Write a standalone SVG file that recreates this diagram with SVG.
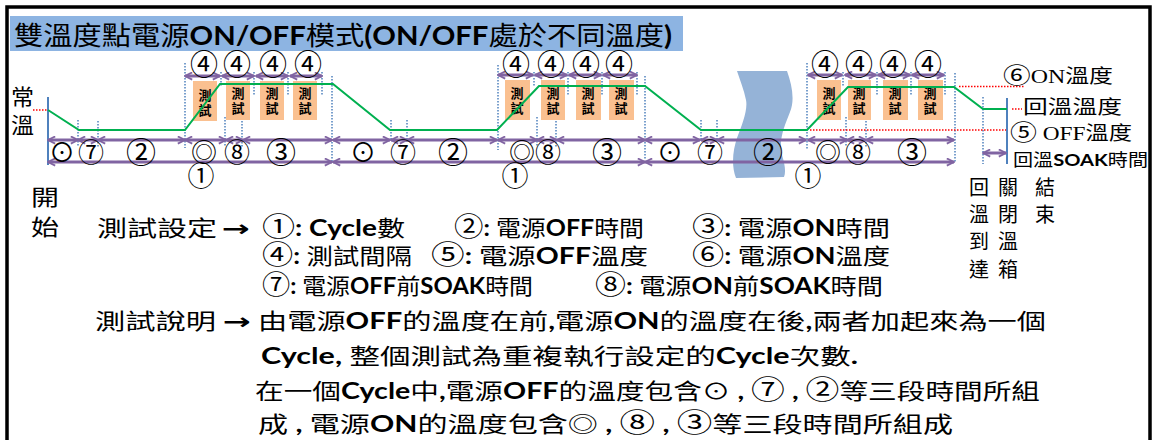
<svg xmlns="http://www.w3.org/2000/svg" width="1155" height="440" viewBox="0 0 1155 440">
<style>
text{font-family:"Noto Sans CJK TC","Noto Sans CJK SC",sans-serif;fill:#000;}
.b{font-family:"Lato","Liberation Sans","Noto Sans CJK TC",sans-serif;font-weight:bold;}
.ar{font-family:"DejaVu Sans",sans-serif;font-weight:bold;}
.c{font-size:26px;}
.c4{font-size:28px;text-anchor:middle;}
.c7{font-size:26px;text-anchor:middle;}
.c2{font-size:30px;text-anchor:middle;}
.c1{font-size:27px;text-anchor:middle;}
.cs{font-size:26px;text-anchor:middle;}
.box{fill:#FAC090;}
.bt{font-size:13px;font-weight:bold;text-anchor:middle;}
.arr{stroke:#8064A2;stroke-width:3;fill:none;marker-start:url(#ah);marker-end:url(#ah);}
.dot{stroke:#4F81BD;stroke-width:1.5;stroke-dasharray:1.5 1.5;fill:none;}
.red{stroke:#FF0000;stroke-width:1.5;stroke-dasharray:1.5 1.5;fill:none;}
.axis{stroke:#4F81BD;stroke-width:2;fill:none;}
.rl{font-size:19px;font-family:"Liberation Serif","Noto Sans CJK TC",serif;}
</style>
<defs>
<marker id="ah" viewBox="0 0 10 10" refX="9" refY="5" markerWidth="9" markerHeight="9" orient="auto-start-reverse" markerUnits="userSpaceOnUse">
<path d="M1,1 L9,5 L1,9" fill="none" stroke="#8064A2" stroke-width="2"/>
</marker>
</defs>
<rect x="7" y="7" width="1143" height="460" fill="#fff" stroke="#000" stroke-width="3.5"/>
<g id="title">
<rect x="10" y="16" width="673" height="35" fill="#8DB4E2"/>
<text x="14" y="45" font-size="26" textLength="658" lengthAdjust="spacingAndGlyphs">雙溫度點電源<tspan class="b">ON/OFF</tspan>模式<tspan class="b">(ON/OFF</tspan>處於不同溫度<tspan class="b">)</tspan></text>
</g>
<g id="break">
<path d="M737,71 L787,71 C792,85 795,100 790,112 C785,125 778,140 782,155 C785,165 786,172 784,177 L736,178 C731,165 733,150 737,138 C742,125 748,110 746,100 C744,90 740,80 737,71 Z" fill="#95B3D7"/>
</g>
<g id="axes">
<line class="axis" x1="48" y1="97" x2="48" y2="165"/>
<line class="axis" x1="1007" y1="98" x2="1007" y2="164"/>
<text x="11" y="105" font-size="22" textLength="23" lengthAdjust="spacingAndGlyphs">常</text>
<text x="11" y="133" font-size="22" textLength="23" lengthAdjust="spacingAndGlyphs">溫</text>
</g>
<g id="dotted">
<line class="dot" x1="78" y1="120" x2="78" y2="147"/>
<line class="dot" x1="98" y1="121" x2="98" y2="147"/>
<line class="dot" x1="185" y1="63" x2="185" y2="148"/>
<line class="dot" x1="221" y1="72" x2="221" y2="86"/>
<line class="dot" x1="225" y1="117" x2="225" y2="147"/>
<line class="dot" x1="242" y1="118" x2="242" y2="147"/>
<line class="dot" x1="254" y1="72" x2="254" y2="96"/>
<line class="dot" x1="288" y1="72" x2="288" y2="96"/>
<line class="dot" x1="322" y1="72" x2="322" y2="96"/>
<line class="dot" x1="332" y1="76" x2="332" y2="162"/>
<line class="dot" x1="391" y1="120" x2="391" y2="141"/>
<line class="dot" x1="407" y1="120" x2="407" y2="142"/>
<line class="dot" x1="498" y1="65" x2="498" y2="150"/>
<line class="dot" x1="534" y1="72" x2="534" y2="86"/>
<line class="dot" x1="537" y1="117" x2="537" y2="147"/>
<line class="dot" x1="556" y1="118" x2="556" y2="147"/>
<line class="dot" x1="568" y1="72" x2="568" y2="96"/>
<line class="dot" x1="602" y1="72" x2="602" y2="96"/>
<line class="dot" x1="637" y1="72" x2="637" y2="96"/>
<line class="dot" x1="645" y1="76" x2="645" y2="160"/>
<line class="dot" x1="701" y1="120" x2="701" y2="140"/>
<line class="dot" x1="717" y1="120" x2="717" y2="140"/>
<line class="dot" x1="807" y1="63" x2="807" y2="150"/>
<line class="dot" x1="843" y1="72" x2="843" y2="86"/>
<line class="dot" x1="846" y1="117" x2="846" y2="147"/>
<line class="dot" x1="866" y1="118" x2="866" y2="147"/>
<line class="dot" x1="877" y1="72" x2="877" y2="96"/>
<line class="dot" x1="911" y1="72" x2="911" y2="96"/>
<line class="dot" x1="945" y1="72" x2="945" y2="96"/>
<line class="dot" x1="955" y1="73" x2="955" y2="163"/>
<line class="dot" x1="983" y1="97" x2="983" y2="164"/>
</g>
<g id="test-boxes">
<rect class="box" x="193" y="81" width="24" height="40"/>
<rect class="box" x="226" y="81" width="24" height="39"/>
<rect class="box" x="260" y="81" width="24" height="39"/>
<rect class="box" x="293" y="81" width="24" height="39"/>
<rect class="box" x="505" y="80" width="25" height="40"/>
<rect class="box" x="541" y="80" width="24" height="40"/>
<rect class="box" x="576" y="80" width="25" height="40"/>
<rect class="box" x="609" y="80" width="25" height="40"/>
<rect class="box" x="817" y="80" width="24" height="40"/>
<rect class="box" x="848" y="80" width="23" height="40"/>
<rect class="box" x="883" y="80" width="25" height="40"/>
<rect class="box" x="918" y="80" width="25" height="40"/>
<text class="bt" x="205" y="100">測</text><text class="bt" x="205" y="115">試</text>
<text class="bt" x="238" y="98">測</text><text class="bt" x="238" y="113">試</text>
<text class="bt" x="272" y="98">測</text><text class="bt" x="272" y="113">試</text>
<text class="bt" x="305" y="98">測</text><text class="bt" x="305" y="113">試</text>
<text class="bt" x="517" y="98">測</text><text class="bt" x="517" y="113">試</text>
<text class="bt" x="553" y="98">測</text><text class="bt" x="553" y="113">試</text>
<text class="bt" x="588" y="98">測</text><text class="bt" x="588" y="113">試</text>
<text class="bt" x="621" y="98">測</text><text class="bt" x="621" y="113">試</text>
<text class="bt" x="829" y="98">測</text><text class="bt" x="829" y="113">試</text>
<text class="bt" x="859" y="98">測</text><text class="bt" x="859" y="113">試</text>
<text class="bt" x="895" y="98">測</text><text class="bt" x="895" y="113">試</text>
<text class="bt" x="930" y="98">測</text><text class="bt" x="930" y="113">試</text>
</g>
<g id="temperature-curve">
<line class="red" x1="33" y1="110" x2="47" y2="110"/>
<line class="red" x1="959" y1="86.5" x2="1025" y2="86.5"/>
<line class="red" x1="1012" y1="109" x2="1022" y2="109"/>
<line class="red" x1="810" y1="130" x2="1006" y2="130"/>
<path d="M48,110 L79,130 L185,130 L220,84 L333,84 L390,130 L497,130 L539,86 L645,86 L701,130 L807,130 L848,87 L954,87 L983,109 L1007,109" fill="none" stroke="#00B050" stroke-width="2"/>
</g>
<g id="connectors">
<line class="arr" x1="185" y1="76" x2="220" y2="76"/>
<line class="arr" x1="222" y1="76" x2="254" y2="76"/>
<line class="arr" x1="256" y1="76" x2="288" y2="76"/>
<line class="arr" x1="290" y1="76" x2="322" y2="76"/>
<line class="arr" x1="498" y1="75" x2="533" y2="75"/>
<line class="arr" x1="535" y1="75" x2="567" y2="75"/>
<line class="arr" x1="569" y1="75" x2="601" y2="75"/>
<line class="arr" x1="603" y1="75" x2="637" y2="75"/>
<line class="arr" x1="808" y1="75" x2="842" y2="75"/>
<line class="arr" x1="845" y1="75" x2="876" y2="75"/>
<line class="arr" x1="878" y1="75" x2="910" y2="75"/>
<line class="arr" x1="912" y1="75" x2="944" y2="75"/>
<line class="arr" x1="48" y1="140" x2="78" y2="140"/>
<line class="arr" x1="78" y1="140" x2="98" y2="140"/>
<line class="arr" x1="98" y1="140" x2="185" y2="140"/>
<line class="arr" x1="185" y1="140" x2="226" y2="140"/>
<line class="arr" x1="226" y1="140" x2="243" y2="140"/>
<line class="arr" x1="243" y1="140" x2="332" y2="140"/>
<line class="arr" x1="333" y1="140" x2="390" y2="140"/>
<line class="arr" x1="391" y1="140" x2="407" y2="140"/>
<line class="arr" x1="407" y1="140" x2="497" y2="140"/>
<line class="arr" x1="498" y1="140" x2="537" y2="140"/>
<line class="arr" x1="537" y1="140" x2="557" y2="140"/>
<line class="arr" x1="557" y1="140" x2="645" y2="140"/>
<line class="arr" x1="645" y1="140" x2="700" y2="140"/>
<line class="arr" x1="701" y1="140" x2="717" y2="140"/>
<line class="arr" x1="717" y1="140" x2="806" y2="140"/>
<line class="arr" x1="808" y1="140" x2="847" y2="140"/>
<line class="arr" x1="847" y1="140" x2="866" y2="140"/>
<line class="arr" x1="866" y1="140" x2="954" y2="140"/>
<line class="arr" x1="48" y1="162" x2="332" y2="162"/>
<line class="arr" x1="333" y1="162" x2="645" y2="162"/>
<line class="arr" x1="645" y1="162" x2="954" y2="162"/>
<line class="arr" x1="983" y1="153" x2="1006" y2="153"/>
</g>
<g id="chart-labels">
<text class="c4" x="204" y="75">④</text>
<text class="c4" x="237" y="75">④</text>
<text class="c4" x="273" y="75">④</text>
<text class="c4" x="308" y="75">④</text>
<text class="c4" x="516" y="75">④</text>
<text class="c4" x="551" y="75">④</text>
<text class="c4" x="586" y="75">④</text>
<text class="c4" x="619" y="75">④</text>
<text class="c4" x="825" y="75">④</text>
<text class="c4" x="859" y="75">④</text>
<text class="c4" x="893" y="75">④</text>
<text class="c4" x="928" y="75">④</text>
<text class="cs" x="62" y="162">⊙</text>
<text class="c7" x="91" y="162">⑦</text>
<text class="c2" x="141" y="163">②</text>
<text class="cs" x="204" y="162">◎</text>
<text class="c7" x="237" y="162">⑧</text>
<text class="c2" x="281" y="163">③</text>
<text class="cs" x="363" y="162">⊙</text>
<text class="c7" x="403" y="162">⑦</text>
<text class="c2" x="453" y="163">②</text>
<text class="cs" x="522" y="162">◎</text>
<text class="c7" x="548" y="162">⑧</text>
<text class="c2" x="607" y="163">③</text>
<text class="cs" x="670" y="162">⊙</text>
<text class="c7" x="710" y="162">⑦</text>
<text class="c2" x="768" y="163">②</text>
<text class="cs" x="828" y="162">◎</text>
<text class="c7" x="858" y="162">⑧</text>
<text class="c2" x="912" y="163">③</text>
<text class="c1" x="201" y="186">①</text>
<text class="c1" x="515" y="186">①</text>
<text class="c1" x="808" y="186">①</text>
</g>
<g id="right-labels">
<text class="rl" x="1003" y="83" textLength="110" lengthAdjust="spacingAndGlyphs"><tspan font-size="22">⑥</tspan>ON溫度</text>
<text class="rl" x="1023" y="114" textLength="99" lengthAdjust="spacingAndGlyphs">回溫溫度</text>
<text class="rl" x="1010" y="140" textLength="122" lengthAdjust="spacingAndGlyphs"><tspan font-size="22">⑤</tspan> OFF溫度</text>
<text x="1013" y="166" font-size="17" textLength="135" lengthAdjust="spacingAndGlyphs">回溫<tspan class="b">SOAK</tspan>時間</text>
</g>
<g id="start-end">
<text x="31" y="205" font-size="22" textLength="28" lengthAdjust="spacingAndGlyphs">開</text>
<text x="31" y="235" font-size="22" textLength="28" lengthAdjust="spacingAndGlyphs">始</text>
<text x="969" y="195" font-size="20">回</text><text x="998" y="195" font-size="20">關</text><text x="1035" y="195" font-size="20">結</text>
<text x="969" y="222" font-size="20">溫</text><text x="998" y="222" font-size="20">閉</text><text x="1035" y="222" font-size="20">束</text>
<text x="969" y="249" font-size="20">到</text><text x="998" y="249" font-size="20">溫</text>
<text x="969" y="277" font-size="20">達</text><text x="998" y="277" font-size="20">箱</text>
</g>
<g id="settings">
<text x="97" y="236" font-size="22" textLength="120" lengthAdjust="spacingAndGlyphs">測試設定</text>
<text class="ar" x="222" y="236" font-size="22" textLength="28" lengthAdjust="spacingAndGlyphs">→</text>
<text x="262" y="236" font-size="22" textLength="143" lengthAdjust="spacingAndGlyphs"><tspan class="c">①</tspan><tspan class="b">: Cycle</tspan>數</text>
<text x="454" y="236" font-size="22" textLength="190" lengthAdjust="spacingAndGlyphs"><tspan class="c">②</tspan><tspan class="b">: </tspan>電源<tspan class="b">OFF</tspan>時間</text>
<text x="692" y="236" font-size="22" textLength="198" lengthAdjust="spacingAndGlyphs"><tspan class="c">③</tspan><tspan class="b">: </tspan>電源<tspan class="b">ON</tspan>時間</text>
<text x="262" y="264" font-size="22" textLength="150" lengthAdjust="spacingAndGlyphs"><tspan class="c">④</tspan><tspan class="b">: </tspan>測試間隔</text>
<text x="431" y="264" font-size="22" textLength="217" lengthAdjust="spacingAndGlyphs"><tspan class="c">⑤</tspan><tspan class="b">: </tspan>電源<tspan class="b">OFF</tspan>溫度</text>
<text x="692" y="264" font-size="22" textLength="198" lengthAdjust="spacingAndGlyphs"><tspan class="c">⑥</tspan><tspan class="b">: </tspan>電源<tspan class="b">ON</tspan>溫度</text>
<text x="262" y="294" font-size="22" textLength="271" lengthAdjust="spacingAndGlyphs"><tspan class="c">⑦</tspan><tspan class="b">: </tspan>電源<tspan class="b">OFF</tspan>前<tspan class="b">SOAK</tspan>時間</text>
<text x="595" y="294" font-size="22" textLength="288" lengthAdjust="spacingAndGlyphs"><tspan class="c">⑧</tspan><tspan class="b">: </tspan>電源<tspan class="b">ON</tspan>前<tspan class="b">SOAK</tspan>時間</text>
</g>
<g id="description">
<text x="95" y="329" font-size="22" textLength="121" lengthAdjust="spacingAndGlyphs">測試說明</text>
<text class="ar" x="223" y="329" font-size="22" textLength="28" lengthAdjust="spacingAndGlyphs">→</text>
<text x="258" y="329" font-size="22" textLength="788" lengthAdjust="spacingAndGlyphs">由電源<tspan class="b">OFF</tspan>的溫度在前<tspan class="b">,</tspan>電源<tspan class="b">ON</tspan>的溫度在後<tspan class="b">,</tspan>兩者加起來為一個</text>
<text x="261" y="364" font-size="22" textLength="597" lengthAdjust="spacingAndGlyphs"><tspan class="b">Cycle, </tspan>整個測試為重複執行設定的<tspan class="b">Cycle</tspan>次數<tspan class="b">.</tspan></text>
<text x="255" y="399" font-size="22" textLength="785" lengthAdjust="spacingAndGlyphs">在一個<tspan class="b">Cycle</tspan>中<tspan class="b">,</tspan>電源<tspan class="b">OFF</tspan>的溫度包含⊙<tspan class="b"> , </tspan><tspan class="c">⑦</tspan><tspan class="b"> , </tspan><tspan class="c">②</tspan>等三段時間所組</text>
<text x="258" y="432" font-size="22" textLength="695" lengthAdjust="spacingAndGlyphs">成<tspan class="b"> , </tspan>電源<tspan class="b">ON</tspan>的溫度包含◎<tspan class="b"> , </tspan><tspan class="c">⑧</tspan><tspan class="b"> , </tspan><tspan class="c">③</tspan>等三段時間所組成</text>
</g>
</svg>
